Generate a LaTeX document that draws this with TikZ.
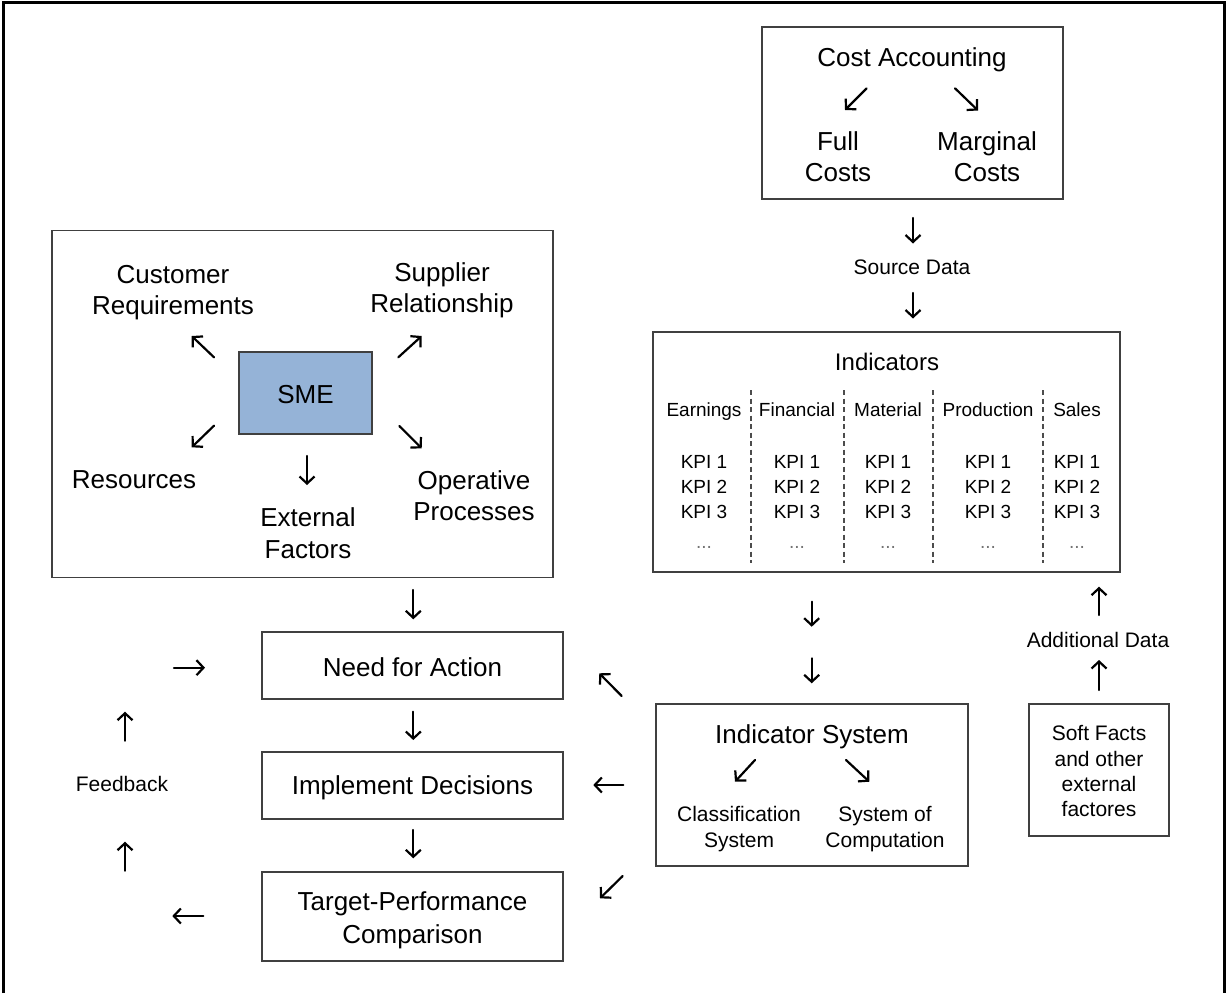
\documentclass[tikz,border=0pt]{standalone}
\usepackage{fontspec}
\setmainfont{Liberation Sans}
\usetikzlibrary{arrows.meta}
\definecolor{smeblue}{HTML}{95B3D7}
\definecolor{edgegray}{HTML}{404040}
\newcommand\fbig{\fontsize{26}{31.5}\selectfont}
\newcommand\fcost{\fontsize{26}{31}\selectfont}
\newcommand\fttl{\fontsize{24}{28}\selectfont}
\newcommand\fsml{\fontsize{21}{26}\selectfont}
\newcommand\fsoft{\fontsize{21}{25.3}\selectfont}
\newcommand\fkpi{\fontsize{19}{25}\selectfont}
\begin{document}
\begin{tikzpicture}[x=1pt,y=-1pt,
  box/.style={draw=edgegray, line width=1.4pt, inner sep=0pt},
  mtxt/.style={inner sep=0pt, align=center, anchor=north, font=\fbig},
  lbl/.style={inner sep=0pt, anchor=base, font=\fbig},
  arr/.style={-{Straight Barb[length=7pt,width=15pt]}, line width=2.2pt, line cap=round},
  kdash/.style={dash pattern=on 5pt off 3.5pt, line width=1.1pt, draw=black!70}]
\useasboundingbox (0,0) rectangle (1228,993);
\fill[white] (0,0) rectangle (1228,993);
\draw[line width=3pt] (3,993) -- (3,2.5) -- (1224.5,2.5) -- (1224.5,993);

% ---------- Cost accounting ----------
\node[box, minimum width=301pt, minimum height=172pt] (cost) at (912.5,113) {};
\node[lbl] (costt) at (912,66) {Cost Accounting};
\node[mtxt, font=\fcost] (full) at (838,131) {Full\\Costs};
\node[mtxt, font=\fcost] (marg) at (987,131) {Marginal\\Costs};
\draw[arr] (866.7,88.3) -- (845,110);
\draw[arr] (955,88.3) -- (978,110.5);

\draw[arr] (913,218) -- (913,243.5);
\node[lbl, font=\fsml] (src) at (912,274.3) {Source Data};
\draw[arr] (913,293) -- (913,318.5);

% ---------- Indicators ----------
\node[box, minimum width=467pt, minimum height=240pt] (ind) at (886.5,452) {};
\node[lbl, font=\fttl] (indt) at (887,370) {Indicators};
\foreach \xx in {751,844,933,1043} \draw[kdash] (\xx,390) -- (\xx,563);
\foreach \xx/\nm [count=\i] in {704/Earnings,797/Financial,888/Material,988/Production,1077/Sales} {
  \node[lbl, font=\fkpi] (h\i) at (\xx,416) {\nm};
  \foreach \r/\yy in {1/468.3,2/493.3,3/518.3}
    \node[lbl, font=\fkpi] (k\i\r) at (\xx,\yy) {KPI \r};
  \node[lbl, font=\fkpi, text=black!55] (d\i) at (\xx,548.3) {...};
}

% ---------- SME ----------
\node[box, minimum width=501pt, minimum height=347pt] (smeframe) at (302.5,404) {};
\node[box, fill=smeblue, minimum width=133pt, minimum height=82pt] (sme) at (305.5,393) {};
\node[lbl] (smet) at (305.5,403.3) {SME};
\node[mtxt] (cust) at (173,265) {Customer\\Requirements};
\node[mtxt] (supp) at (442,262.3) {Supplier\\Relationship};
\node[lbl] (res) at (134,488.3) {Resources};
\node[mtxt] (ext) at (308,507.7) {External\\Factors};
\node[mtxt] (oper) at (474,470) {Operative\\Processes};
\draw[arr] (214,357.3) -- (191.7,336);
\draw[arr] (398.3,357.3) -- (421.7,336);
\draw[arr] (214,425.7) -- (191.7,447.3);
\draw[arr] (399.3,426) -- (421.7,448.3);
\draw[arr] (307,456) -- (307,485);

% ---------- process chain ----------
\draw[arr] (413.3,590) -- (413.3,619.3);
\node[box, minimum width=301pt, minimum height=67pt] (need) at (412.5,665.5) {};
\node[lbl] (needt) at (412.5,676) {Need for Action};
\draw[arr] (413.3,711.7) -- (413.3,740);
\node[box, minimum width=301pt, minimum height=67pt] (impl) at (412.5,785.5) {};
\node[lbl] (implt) at (412.5,794.3) {Implement Decisions};
\draw[arr] (413.3,830) -- (413.3,858.3);
\node[box, minimum width=301pt, minimum height=89pt] (targ) at (412.5,916.5) {};
\node[mtxt, font=\fontsize{26}{32.7}\selectfont] (targt) at (412.5,891.7) {Target-Performance\\Comparison};

% ---------- feedback loop ----------
\draw[arr] (174,667.7) -- (205,667.7);
\draw[arr] (125,740.7) -- (125,711.7);
\node[lbl, font=\fsml] (fb) at (122,791.7) {Feedback};
\draw[arr] (125,870.7) -- (125,841.7);
\draw[arr] (203.3,916) -- (172.3,916);

% ---------- indicator system ----------
\draw[arr] (811.7,601.7) -- (811.7,626.7);
\draw[arr] (811.7,658.3) -- (811.7,683.3);
\node[box, minimum width=312pt, minimum height=162pt] (isys) at (812,785) {};
\node[lbl] (isyst) at (812,743.3) {Indicator System};
\draw[arr] (755,760) -- (735,781.7);
\draw[arr] (846,760) -- (869.3,781.7);
\node[mtxt, font=\fsml] (class) at (739,806.3) {Classification\\System};
\node[mtxt, font=\fsml] (comp) at (885,806.3) {System of\\Computation};

\draw[arr] (621.7,696) -- (599.3,673.3);
\draw[arr] (623.3,785) -- (593.3,785);
\draw[arr] (622.7,876) -- (600,898.3);

% ---------- soft facts ----------
\node[box, minimum width=140pt, minimum height=132pt] (soft) at (1099,770) {};
\node[mtxt, font=\fsoft] (softt) at (1099,725.3) {Soft Facts\\and other\\external\\factores};
\draw[arr] (1099,690) -- (1099,660);
\node[lbl, font=\fsml] (add) at (1098,647.3) {Additional Data};
\draw[arr] (1099,615) -- (1099,586.7);
\end{tikzpicture}
\end{document}
